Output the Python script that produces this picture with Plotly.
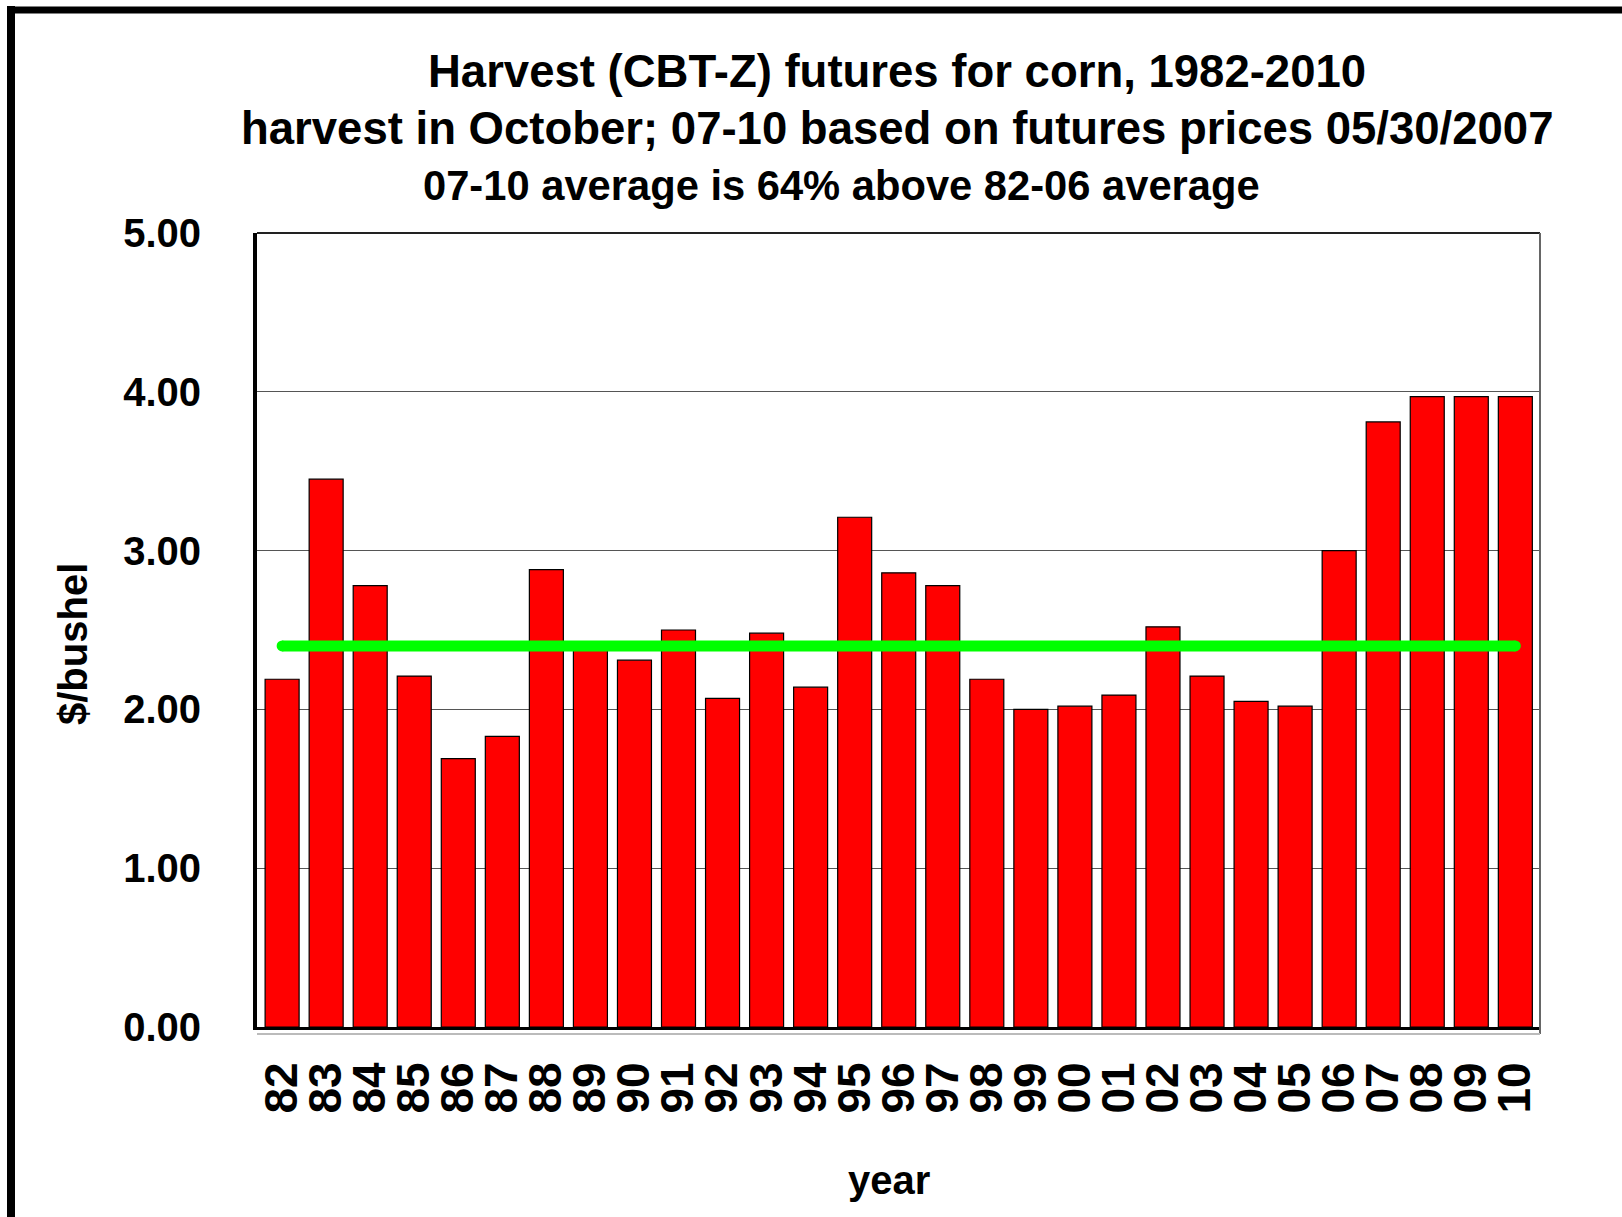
import plotly.graph_objects as go

# Harvest (CBT-Z) corn futures, $/bushel
years = ['82', '83', '84', '85', '86', '87', '88', '89', '90', '91',
         '92', '93', '94', '95', '96', '97', '98', '99', '00', '01',
         '02', '03', '04', '05', '06', '07', '08', '09', '10']
prices = [2.19, 3.45, 2.78, 2.21, 1.69, 1.83, 2.88, 2.39, 2.31, 2.50,
          2.07, 2.48, 2.14, 3.21, 2.86, 2.78, 2.19, 2.00, 2.02, 2.09,
          2.52, 2.21, 2.05, 2.02, 3.00, 3.81, 3.97, 3.97, 3.97]
avg_82_06 = [2.40, 2.40]
y_ticks = [0, 1, 2, 3, 4, 5]
y_tick_text = ['0.00', '1.00', '2.00', '3.00', '4.00', '5.00']

title_lines = [
    'Harvest (CBT-Z) futures for corn, 1982-2010',
    'harvest in October; 07-10 based on futures prices 05/30/2007',
    '07-10 average is 64% above 82-06 average',
]

W, H = 1622, 1217
PL, PR, PT, PB = 257, 1540, 233, 1027   # plot area in pixels


def px_x(px):
    return (px - PL) / (PR - PL)


def px_y(py):
    return (PB - py) / (PB - PT)


FONT = 'Liberation Sans, Arial, sans-serif'

fig = go.Figure()

fig.add_trace(go.Bar(
    x=years, y=prices,
    marker=dict(color='#FF0000', line=dict(color='#000000', width=1.2)),
    showlegend=False,
))

# average line, markers give it rounded ends
fig.add_trace(go.Scatter(
    x=[years[0], years[-1]], y=avg_82_06,
    mode='lines+markers',
    line=dict(color='#00FF00', width=11),
    marker=dict(color='#00FF00', size=11, line=dict(width=0)),
    showlegend=False,
))

shapes = [
    # outer frame (left and top only are visible)
    dict(type='line', xref='paper', yref='paper',
         x0=px_x(11), x1=px_x(11), y0=px_y(6), y1=px_y(1240),
         line=dict(color='black', width=8)),
    dict(type='line', xref='paper', yref='paper',
         x0=px_x(7), x1=px_x(1640), y0=px_y(10), y1=px_y(10),
         line=dict(color='black', width=7)),
    # plot box top / right
    dict(type='line', xref='paper', yref='paper',
         x0=0, x1=1, y0=1, y1=1, line=dict(color='#222222', width=2)),
    dict(type='line', xref='paper', yref='paper',
         x0=1, x1=1, y0=px_y(1034), y1=1, line=dict(color='#666666', width=2)),
    # light floor line under axis
    dict(type='line', xref='paper', yref='paper',
         x0=0, x1=1, y0=px_y(1034), y1=px_y(1034),
         line=dict(color='#BBBBBB', width=2)),
]

annotations = [
    dict(text='<b>%s</b>' % title_lines[0], x=px_x(897), y=px_y(72),
         font=dict(size=45.5)),
    dict(text='<b>%s</b>' % title_lines[1], x=px_x(897), y=px_y(129),
         font=dict(size=45.5)),
    dict(text='<b>%s</b>' % title_lines[2], x=px_x(841), y=px_y(185),
         font=dict(size=41.7)),
    dict(text='<b>$/bushel</b>', x=px_x(73), y=px_y(644), textangle=-90,
         font=dict(size=40)),
    dict(text='<b>year</b>', x=px_x(889), y=px_y(1180),
         font=dict(size=40)),
]
for a in annotations:
    a.update(xref='paper', yref='paper', showarrow=False,
             xanchor='center', yanchor='middle')
    a['font'].update(family=FONT, color='black')

fig.update_layout(
    width=W, height=H,
    margin=dict(l=PL, r=W - PR, t=PT, b=H - PB, pad=0),
    paper_bgcolor='white',
    plot_bgcolor='white',
    bargap=0.228,
    shapes=shapes,
    annotations=annotations,
    showlegend=False,
)

fig.update_xaxes(
    type='category',
    range=[-0.57, 28.56],
    tickmode='array', tickvals=years, ticktext=years,
    showgrid=False,
    showline=True, linecolor='black', linewidth=3,
    ticks='', tickangle=-90,
    ticklabelstandoff=14,
    tickfont=dict(family=FONT, size=46, color='black', weight='bold'),
)

fig.update_yaxes(
    range=[0, 5],
    tickvals=y_ticks, ticktext=y_tick_text,
    showgrid=True, gridcolor='#555555', gridwidth=1.3,
    zeroline=False,
    showline=True, linecolor='black', linewidth=4,
    ticks='', ticklabelstandoff=44,
    tickfont=dict(family=FONT, size=40, color='black', weight='bold'),
)

fig.write_html('out.html', config={'displayModeBar': False},
               post_script="document.body.style.margin='0';")
